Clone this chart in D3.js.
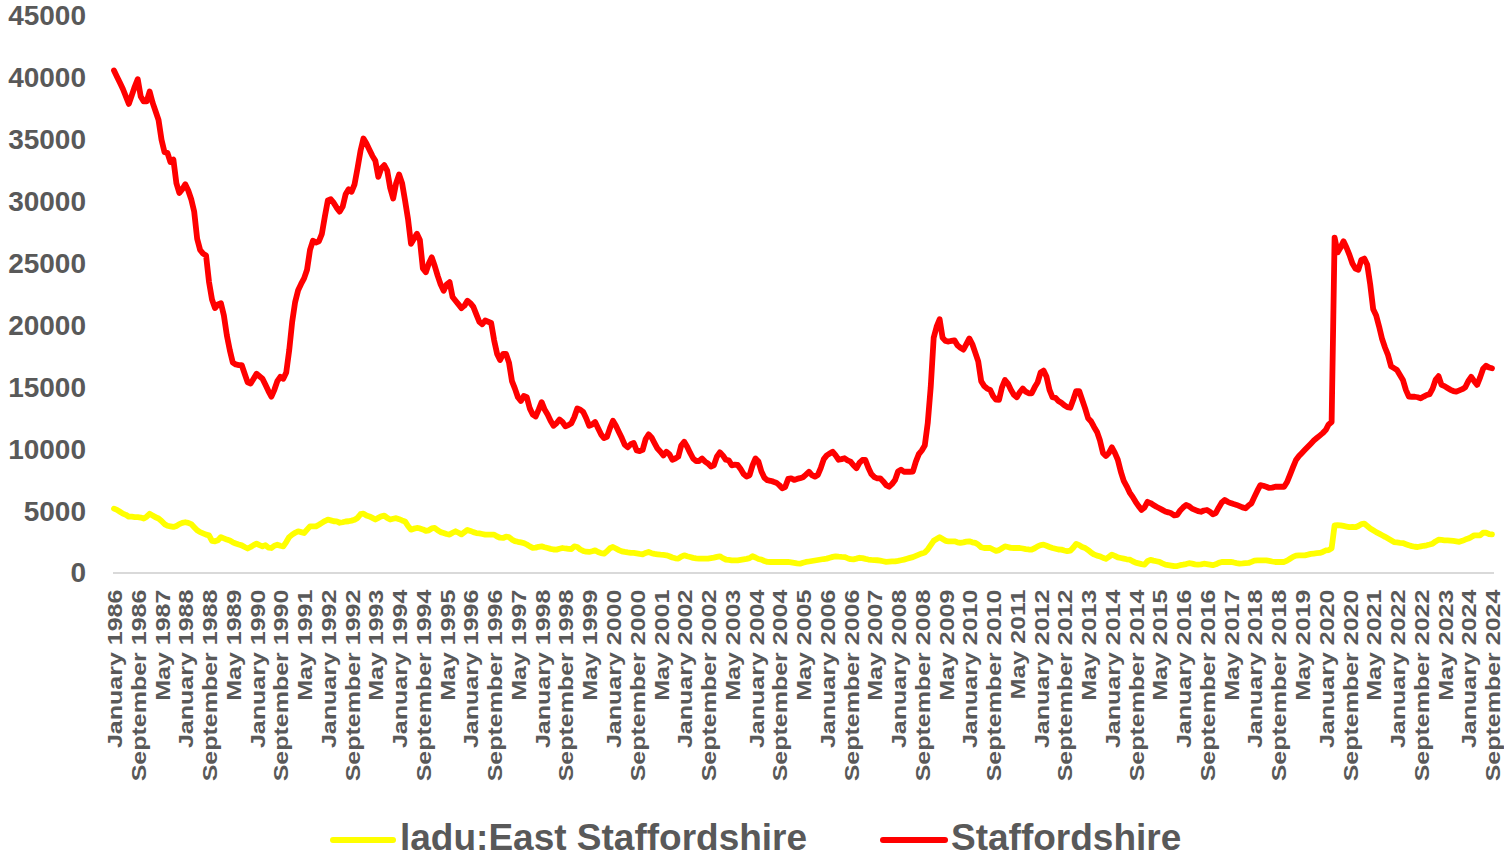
<!DOCTYPE html>
<html><head><meta charset="utf-8">
<script src="https://cdn.jsdelivr.net/npm/d3@7"></script>
<style>body{margin:0;background:#fff}svg{display:block}</style>
</head><body>
<svg id="chart" width="1504" height="858"></svg>
<script>
const monthNames = ["January","February","March","April","May","June","July","August","September","October","November","December"];
const startYear = 1986;
const tickEvery = 8;
const yTicks = [0,5000,10000,15000,20000,25000,30000,35000,40000,45000];
const seriesNames = ["ladu:East Staffordshire","Staffordshire"];
const seriesColors = ["#FFFF00","#FF0000"];

const eastStaffordshire = [
5200,5100,4950,4800,4700,4550,4550,4520,4520,4480,
4400,4550,4780,4650,4500,4400,4200,3950,3820,3770,
3720,3800,3950,4050,4100,4050,3950,3700,3450,3300,
3200,3100,3040,2600,2560,2650,2900,2800,2700,2620,
2480,2380,2300,2230,2100,1980,2100,2250,2370,2250,
2150,2250,2050,2020,2200,2280,2200,2150,2500,2900,
3100,3250,3370,3300,3230,3500,3770,3770,3770,3900,
4050,4200,4310,4250,4180,4170,4060,4100,4160,4180,
4230,4300,4450,4750,4800,4650,4570,4450,4320,4450,
4580,4630,4450,4320,4380,4430,4350,4250,4170,3800,
3500,3580,3640,3600,3520,3400,3450,3600,3640,3450,
3300,3230,3150,3100,3250,3370,3250,3120,3300,3480,
3400,3300,3230,3200,3150,3100,3100,3100,3100,2950,
2850,2830,2930,2900,2700,2580,2520,2470,2420,2300,
2150,2030,2050,2120,2150,2080,2020,1950,1900,1890,
1960,2020,1980,1950,1940,2150,2100,1900,1780,1720,
1700,1760,1830,1700,1600,1560,1750,2000,2100,1980,
1850,1750,1700,1660,1630,1620,1580,1540,1510,1620,
1700,1600,1540,1510,1480,1460,1430,1350,1250,1190,
1160,1320,1430,1350,1290,1220,1180,1160,1160,1160,
1160,1200,1240,1300,1350,1200,1090,1060,1020,1020,
1020,1060,1100,1140,1200,1350,1250,1130,1080,970,
900,890,890,890,890,890,890,890,860,820,
780,750,830,890,930,970,1010,1050,1090,1130,
1160,1230,1300,1350,1320,1300,1290,1200,1120,1100,
1160,1230,1200,1140,1090,1060,1040,1030,1000,950,
900,920,940,940,980,1030,1080,1150,1220,1280,
1380,1480,1580,1650,1900,2250,2600,2750,2900,2750,
2600,2560,2560,2560,2480,2430,2470,2530,2560,2480,
2430,2300,2080,2020,2020,2020,1900,1780,1850,2000,
2150,2100,2030,2020,2020,2020,1980,1930,1900,1890,
2000,2150,2250,2290,2200,2100,2020,1960,1900,1890,
1820,1760,1800,2050,2350,2250,2100,2020,1850,1650,
1500,1400,1350,1230,1140,1300,1480,1380,1260,1210,
1160,1110,1080,950,840,780,720,680,950,1060,
1000,950,900,780,680,640,600,550,560,630,
670,720,790,760,700,670,700,750,720,680,
630,700,820,890,890,890,890,850,800,760,
770,790,810,900,1000,1020,1020,1020,1020,980,
930,890,890,890,890,1000,1150,1300,1400,1430,
1430,1430,1480,1540,1570,1600,1620,1700,1820,1850,
2000,3850,3870,3850,3800,3750,3700,3720,3700,3800,
3950,3990,3800,3600,3450,3300,3180,3050,2920,2780,
2640,2500,2470,2440,2420,2330,2240,2170,2120,2100,
2150,2200,2240,2300,2370,2550,2690,2670,2640,2630,
2610,2590,2560,2520,2600,2700,2780,2900,3040,3040,
3040,3250,3250,3150,3120
];

const staffordshire = [
40600,40100,39600,39100,38500,37900,38600,39300,39900,38500,
38100,38100,38900,38000,37300,36600,35000,34000,33950,33200,
33400,31500,30700,31000,31400,30900,30200,29200,27000,26100,
25800,25650,23500,22100,21400,21700,21800,20800,19200,18000,
17000,16850,16800,16800,16100,15400,15300,15700,16100,15900,
15700,15200,14700,14250,14800,15500,15850,15700,16200,18000,
20300,21900,22850,23350,23800,24500,26100,26850,26700,26800,
27400,28800,30100,30200,29900,29500,29200,29600,30600,31000,
30800,31400,32700,34100,35100,34700,34200,33700,33300,32000,
32700,32950,32500,31100,30250,31500,32200,31500,30100,28600,
26600,27000,27400,26900,24600,24300,25000,25500,24800,24000,
23300,22800,23300,23500,22300,22000,21700,21400,21600,22000,
21800,21500,20900,20300,20100,20400,20300,20200,18800,17700,
17200,17700,17700,17000,15500,14900,14200,13900,14300,14200,
13300,12800,12650,13200,13800,13200,12800,12300,11900,12100,
12400,12200,11850,11950,12100,12600,13300,13200,13000,12500,
11900,12000,12200,11700,11200,10900,11000,11700,12300,11900,
11400,10900,10350,10150,10400,10500,9900,9850,9950,10800,
11200,10950,10500,10050,9800,9500,9800,9600,9150,9250,
9400,10300,10600,10200,9700,9250,9050,9050,9250,9000,
8850,8600,8700,9400,9750,9500,9150,9100,8700,8750,
8730,8400,8000,7800,7900,8700,9250,9000,8200,7700,
7500,7450,7380,7300,7100,6850,6950,7600,7650,7520,
7600,7660,7740,7950,8180,7900,7780,7920,8500,9200,
9500,9650,9800,9500,9150,9200,9270,9100,9000,8700,
8460,8900,9130,9130,8500,8000,7750,7650,7650,7400,
7100,6970,7200,7510,8200,8350,8180,8180,8180,8200,
9000,9600,9900,10300,12100,15000,19000,19900,20500,19000,
18750,18700,18750,18800,18400,18200,18050,18500,18950,18500,
17800,17100,15500,15100,14900,14800,14300,14000,13990,15000,
15590,15300,14800,14400,14200,14600,14900,14650,14520,14520,
15000,15400,16200,16350,15850,14800,14200,14150,13900,13750,
13550,13400,13350,14000,14700,14700,14000,13300,12500,12250,
11800,11400,10700,9700,9450,9700,10150,9700,9150,8200,
7450,7000,6500,6150,5750,5400,5100,5300,5750,5650,
5500,5350,5230,5100,4970,4900,4820,4650,4700,5050,
5300,5490,5400,5200,5100,5000,4950,5050,5090,4950,
4750,4850,5300,5700,5900,5750,5650,5570,5500,5400,
5300,5230,5450,5630,6150,6650,7100,7050,6970,6870,
6900,6970,6970,6970,6970,7350,7950,8550,9130,9450,
9700,9950,10200,10450,10700,10900,11100,11300,11550,12000,
12200,27100,25900,26300,26800,26300,25700,25000,24600,24500,
25300,25400,24900,23300,21300,20800,19900,18900,18200,17600,
16700,16550,16400,16000,15600,14800,14250,14240,14240,14200,
14110,14250,14380,14450,14900,15600,15900,15200,15100,14950,
14800,14700,14650,14750,14850,15000,15500,15850,15500,15200,
15800,16500,16750,16600,16540
];

const categories = staffordshire.map((d, i) => monthNames[i % 12] + " " + (startYear + Math.floor(i / 12)));
const tickLabels = categories.filter((d, i) => i % tickEvery === 0);

const FONT = "'Liberation Sans', Arial, sans-serif";
const GREY = "#595959";
const svg = d3.select("#chart");

const x = d3.scalePoint().domain(categories).range([114, 1492]);
const y = d3.scaleLinear().domain([0, 45000]).range([573, 16]);

// Y axis
const yAxis = svg.append("g").attr("transform", "translate(86,0)")
  .call(d3.axisLeft(y).tickValues(yTicks).tickSize(0).tickPadding(0).tickFormat(d3.format("d")));
yAxis.select(".domain").remove();
yAxis.selectAll("text")
  .attr("font-family", FONT).attr("font-weight", "bold").attr("font-size", 28)
  .attr("fill", GREY);

// X axis
const xAxis = svg.append("g").attr("transform", "translate(0,573)")
  .call(d3.axisBottom(x).tickValues(tickLabels).tickSize(0).tickPadding(0));
xAxis.select(".domain").attr("stroke", "#d9d9d9").attr("stroke-width", 2)
  .attr("d", "M113,0H1494");
xAxis.selectAll("text")
  .attr("font-family", FONT).attr("font-weight", "bold").attr("font-size", 21)
  .attr("fill", GREY)
  .attr("text-anchor", "end")
  .attr("x", -14).attr("y", 0).attr("dy", "0.36em")
  .attr("transform", "rotate(-90) scale(1.19,1)");

// Lines
const line = d3.line().x((d, i) => x(categories[i])).y(d => y(d)).curve(d3.curveLinear);
[eastStaffordshire, staffordshire].forEach((s, k) => {
  svg.append("path").datum(s)
    .attr("d", line)
    .attr("fill", "none")
    .attr("stroke", seriesColors[k])
    .attr("stroke-width", 5.8)
    .attr("stroke-linejoin", "round")
    .attr("stroke-linecap", "round");
});

// Legend
const legendItems = [{x0: 333, x1: 393, tx: 400}, {x0: 883, x1: 945, tx: 951}];
legendItems.forEach((L, k) => {
  svg.append("line").attr("x1", L.x0).attr("x2", L.x1).attr("y1", 840).attr("y2", 840)
    .attr("stroke", seriesColors[k]).attr("stroke-width", 6).attr("stroke-linecap", "round");
  svg.append("text").attr("x", L.tx).attr("y", 850)
    .attr("font-family", FONT).attr("font-weight", "bold").attr("font-size", 37)
    .attr("fill", GREY).text(seriesNames[k]);
});
</script>
</body></html>
